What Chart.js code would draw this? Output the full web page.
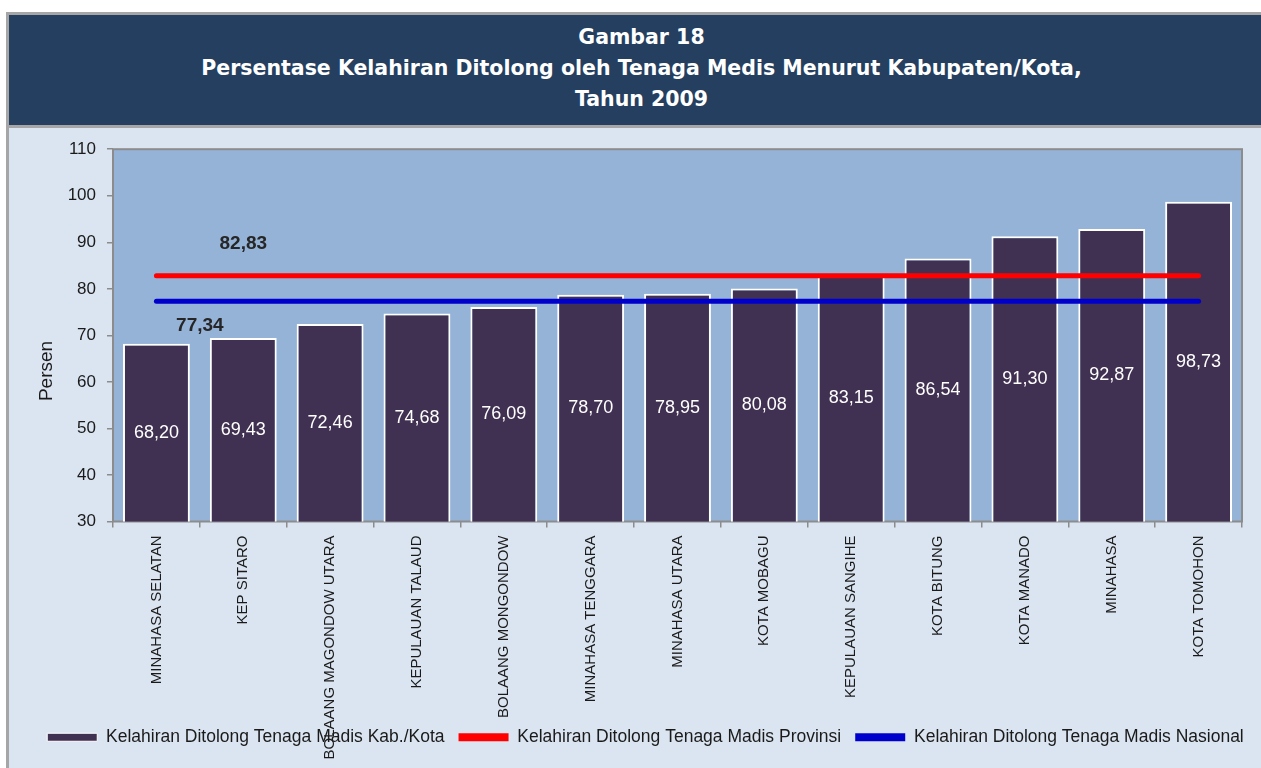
<!DOCTYPE html>
<html>
<head>
<meta charset="utf-8">
<title>Gambar 18</title>
<script src="https://cdn.jsdelivr.net/npm/chart.js@4.4.1/dist/chart.umd.min.js"></script>
<style>
  html, body { margin: 0; padding: 0; background: #fff; }
  #frame {
    position: absolute; left: 6px; top: 12px; width: 1255px; height: 756px;
    border-left: 3px solid #a6a6a6; border-top: 3px solid #a6a6a6;
    background: #dbe5f1;
  }
  #header {
    height: 103px; padding: 7px 0 0 10px; background: #243f60; color: #fff;
    border-bottom: 3px solid #a6a6a6; text-align: center;
    font-family: "DejaVu Sans", sans-serif; font-weight: bold; font-size: 20.5px; line-height: 31px;
  }
  #chartBox { position: relative; width: 1252px; height: 640px; }
</style>
</head>
<body>
<div id="frame">
  <div id="header">
    <div>Gambar 18</div>
    <div>Persentase Kelahiran Ditolong oleh Tenaga Medis Menurut Kabupaten/Kota,</div>
    <div>Tahun 2009</div>
  </div>
  <div id="chartBox"><canvas id="birthChart"></canvas></div>
</div>
<script>
// Data
const categories = [
  'MINAHASA SELATAN', 'KEP SITARO', 'BOLAANG MAGONDOW UTARA', 'KEPULAUAN TALAUD',
  'BOLAANG MONGONDOW', 'MINAHASA TENGGARA', 'MINAHASA UTARA', 'KOTA MOBAGU',
  'KEPULAUAN SANGIHE', 'KOTA BITUNG', 'KOTA MANADO', 'MINAHASA', 'KOTA TOMOHON'
];
const kabKotaValues = [68.20, 69.43, 72.46, 74.68, 76.09, 78.70, 78.95, 80.08, 83.15, 86.54, 91.30, 92.87, 98.73];
const provinsiValue = 82.83;
const nasionalValue = 77.34;
const yTicks = [30, 40, 50, 60, 70, 80, 90, 100, 110];

const FONT = "'Liberation Sans', Arial, sans-serif";

// comma as decimal separator
function fmt(v) {
  return v.toFixed(2).replace('.', ',');
}

// Plot area background, frame and the y axis title
const plotBackground = {
  id: 'plotBackground',
  afterLayout(chart) {
    // legend sits right of the canvas centre in the original
    chart.legend.left += 20;
    chart.legend.right += 20;
    // let the long category names run past the axis box (no clipping)
    chart.scales.x.bottom = chart.height;
  },
  beforeDraw(chart) {
    const { ctx, chartArea: a } = chart;
    ctx.save();
    ctx.fillStyle = '#95b3d7';
    ctx.fillRect(a.left, a.top, a.right - a.left, a.bottom - a.top);
    ctx.strokeStyle = '#8c8c8c';
    ctx.lineWidth = 2;
    ctx.strokeRect(a.left, a.top, a.right - a.left, a.bottom - a.top);

    ctx.translate(38, 243);
    ctx.rotate(-Math.PI / 2);
    ctx.fillStyle = '#1a1a1a';
    ctx.font = '19px ' + FONT;
    ctx.textAlign = 'center';
    ctx.textBaseline = 'middle';
    ctx.fillText('Persen', 0, 0);
    ctx.restore();
  }
};

// Values inside bars plus labels of the two reference lines
const valueLabels = {
  id: 'valueLabels',
  afterDatasetsDraw(chart) {
    const ctx = chart.ctx;
    const meta = chart.getDatasetMeta(0);
    const bottom = chart.chartArea.bottom;
    ctx.save();
    ctx.textAlign = 'center';
    ctx.textBaseline = 'middle';
    ctx.fillStyle = '#ffffff';
    ctx.font = '18px ' + FONT;
    meta.data.forEach((bar, i) => {
      ctx.fillText(fmt(kabKotaValues[i]), bar.x, (bar.y + bottom) / 2);
    });

    const x = chart.scales.x;
    const y = chart.scales.y;
    ctx.fillStyle = '#262626';
    ctx.font = 'bold 19px ' + FONT;
    ctx.fillText(fmt(provinsiValue), x.getPixelForValue(1), y.getPixelForValue(provinsiValue) - 32);
    const midX = (x.getPixelForValue(0) + x.getPixelForValue(1)) / 2;
    ctx.fillText(fmt(nasionalValue), midX, y.getPixelForValue(nasionalValue) + 25);
    ctx.restore();
  }
};

const ctx = document.getElementById('birthChart').getContext('2d');
const chart = new Chart(ctx, {
  type: 'bar',
  data: {
    labels: categories,
    datasets: [
      {
        label: 'Kelahiran Ditolong Tenaga Madis Kab./Kota',
        data: kabKotaValues,
        backgroundColor: '#403152',
        borderColor: '#ffffff',
        borderWidth: 2,
        barPercentage: 0.77,
        categoryPercentage: 1,
        order: 2
      },
      {
        type: 'line',
        label: 'Kelahiran Ditolong Tenaga Madis Provinsi',
        data: categories.map(() => provinsiValue),
        borderColor: '#ff0000',
        backgroundColor: '#ff0000',
        borderWidth: 5,
        borderCapStyle: 'round',
        pointRadius: 0,
        order: 1
      },
      {
        type: 'line',
        label: 'Kelahiran Ditolong Tenaga Madis Nasional',
        data: categories.map(() => nasionalValue),
        borderColor: '#0000cc',
        backgroundColor: '#0000cc',
        borderWidth: 5,
        borderCapStyle: 'round',
        pointRadius: 0,
        order: 1
      }
    ]
  },
  options: {
    responsive: true,
    maintainAspectRatio: false,
    animation: false,
    layout: { padding: { top: 21, right: 19, bottom: 12, left: 0 } },
    plugins: {
      title: { display: false },
      tooltip: { enabled: false },
      legend: {
        position: 'bottom',
        labels: {
          color: '#1a1a1a',
          font: { family: FONT, size: 17.5 },
          boxWidth: 50,
          boxHeight: 8,
          padding: 14,
          sort: (a, b) => a.datasetIndex - b.datasetIndex,
          generateLabels(chart) {
            return chart.data.datasets.map((ds, i) => ({
              text: ds.label,
              datasetIndex: i,
              fillStyle: ds.type === 'line' ? ds.borderColor : ds.backgroundColor,
              strokeStyle: ds.type === 'line' ? ds.borderColor : '#ffffff',
              lineWidth: ds.type === 'line' ? 0 : 1,
              fontColor: '#1a1a1a',
              hidden: false
            }));
          }
        }
      }
    },
    scales: {
      x: {
        border: { display: false },
        grid: { drawOnChartArea: false, tickLength: 6, color: '#8c8c8c', lineWidth: 1.5 },
        ticks: {
          color: '#1a1a1a',
          font: { family: FONT, size: 15 },
          minRotation: 90,
          maxRotation: 90,
          autoSkip: false,
          padding: 8
        },
        afterFit(scale) { scale.height = 193; }
      },
      y: {
        min: 30,
        max: 110,
        border: { display: false },
        grid: { drawOnChartArea: false, tickLength: 6, color: '#8c8c8c', lineWidth: 1.5 },
        afterBuildTicks(scale) { scale.ticks = yTicks.map(v => ({ value: v })); },
        ticks: {
          color: '#1a1a1a',
          font: { family: FONT, size: 17 },
          padding: 11
        },
        afterFit(scale) { scale.width = 104; }
      }
    }
  },
  plugins: [plotBackground, valueLabels]
});
</script>
</body>
</html>
